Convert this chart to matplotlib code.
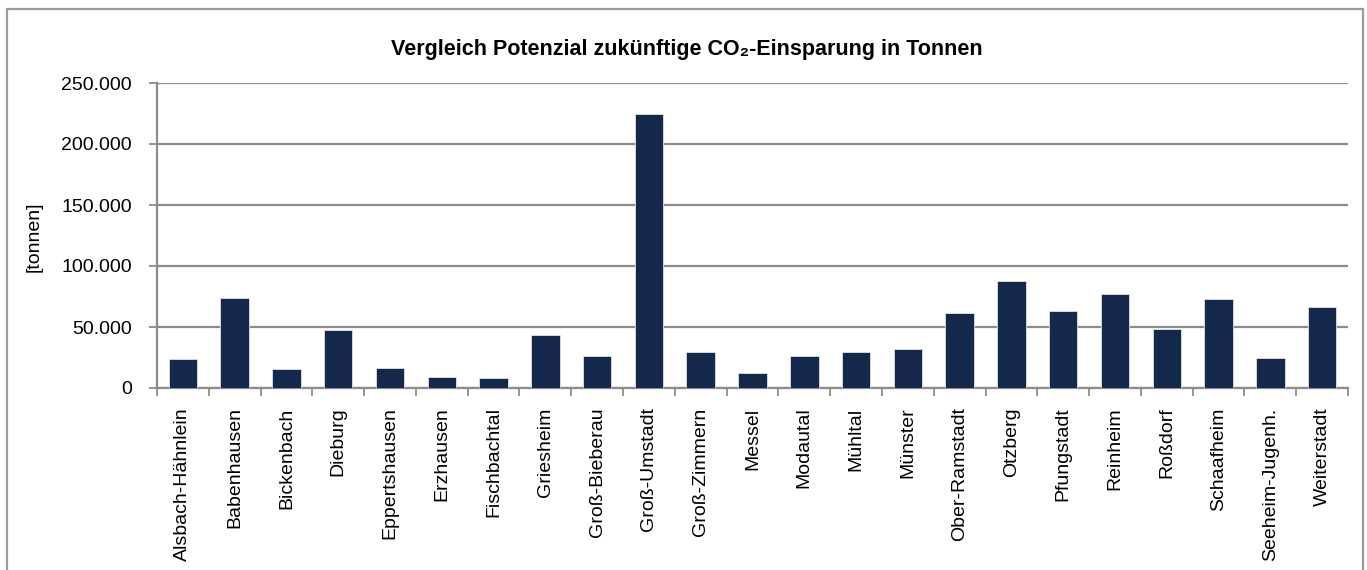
import matplotlib
matplotlib.use("Agg")
import matplotlib.pyplot as plt
from matplotlib.ticker import FuncFormatter, FixedLocator
from matplotlib.patches import Rectangle
import numpy as np

categories = ["Alsbach-Hähnlein", "Babenhausen", "Bickenbach", "Dieburg", "Eppertshausen",
              "Erzhausen", "Fischbachtal", "Griesheim", "Groß-Bieberau", "Groß-Umstadt",
              "Groß-Zimmern", "Messel", "Modautal", "Mühltal", "Münster", "Ober-Ramstadt",
              "Otzberg", "Pfungstadt", "Reinheim", "Roßdorf", "Schaafheim",
              "Seeheim-Jugenh.", "Weiterstadt"]
values = [23500, 73500, 15300, 47500, 16700, 9300, 8500, 43700, 26500, 224900,
          29500, 12300, 26500, 29500, 31700, 61500, 87700, 63100, 77000, 48100,
          72900, 24300, 66100]
yticks = [0, 50000, 100000, 150000, 200000, 250000]
title = "Vergleich Potenzial zukünftige CO₂-Einsparung in Tonnen"
ylabel = "[tonnen]"

FONT = ["Liberation Sans Narrow", "Liberation Sans", "DejaVu Sans"]
plt.rcParams["font.family"] = FONT

W, H = 1367, 570
fig = plt.figure(figsize=(W / 100, H / 100), dpi=100)
ax = fig.add_axes([157 / W, 1 - 388 / H, (1348 - 157) / W, (388 - 83) / H])

x = np.arange(len(categories))
ax.bar(x, values, width=0.55, color="#13284a", edgecolor="#dfe3ea", linewidth=0.6, zorder=3)

ax.set_xlim(-0.5, len(categories) - 0.5)
ax.set_ylim(0, 250000)
ax.set_yticks(yticks)
ax.yaxis.set_major_formatter(FuncFormatter(lambda v, p: f"{int(v):,}".replace(",", ".")))
ax.grid(axis="y", color="#8c8c8c", linewidth=1.6, zorder=0)

ax.set_xticks(x)
ax.set_xticklabels(categories, rotation=90, fontsize=14)
ax.tick_params(axis="x", which="major", length=0, pad=14)
ax.xaxis.set_minor_locator(FixedLocator(np.arange(-0.5, len(categories), 1.0)))
ax.tick_params(axis="x", which="minor", length=6, width=1.3, color="#8c8c8c")
ax.tick_params(axis="y", length=6, width=1.3, color="#8c8c8c", labelsize=14, pad=12)

for s in ["top", "right"]:
    ax.spines[s].set_visible(False)
for s in ["left", "bottom"]:
    ax.spines[s].set_color("#8c8c8c")
    ax.spines[s].set_linewidth(1.6)

ax.set_ylabel(ylabel, fontsize=14)
ax.yaxis.set_label_coords(43 / W, 1 - 237 / H, transform=fig.transFigure)

fig.text(687 / W, 1 - 50 / H, title, ha="center", va="center", fontsize=15.5, fontweight="bold")

fig.patches.append(Rectangle((7 / W, -0.05), (1363 - 7) / W, 1.05 - 9 / H,
                             transform=fig.transFigure, fill=False,
                             edgecolor="#9a9a9a", linewidth=1.6))

fig.savefig("out.png", dpi=100)
